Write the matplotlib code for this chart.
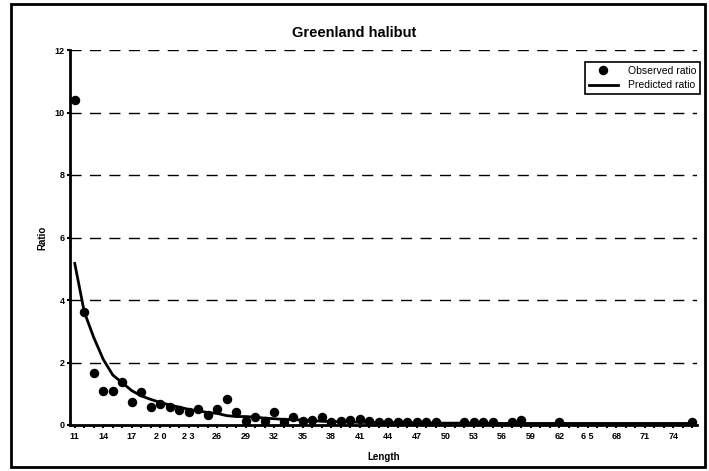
import numpy as np
import matplotlib
matplotlib.use("Agg")
import matplotlib.pyplot as plt
from matplotlib.patches import Rectangle

plt.rcParams['font.family'] = ['Liberation Sans', 'DejaVu Sans']

lengths = list(range(11, 77))
nan = float('nan')
observed = [10.4, 3.62, 1.66, 1.09, 1.09, 1.37, 0.75, 1.05, 0.58, 0.68,   # 11-20
            0.57, 0.48, 0.42, 0.52, 0.32, 0.50, 0.84, 0.43, 0.14, 0.25,   # 21-30
            0.14, 0.42, 0.10, 0.27, 0.12, 0.16, 0.27, 0.10, 0.14, 0.15,   # 31-40
            0.19, 0.12, 0.10, 0.10, 0.10, 0.10, 0.10, 0.10, 0.10, nan,    # 41-50
            nan, 0.10, 0.10, 0.10, 0.10, nan, 0.10, 0.16, nan, nan,       # 51-60
            nan, 0.10, nan, nan, nan, nan, nan, nan, nan, nan,            # 61-70
            nan, nan, nan, nan, nan, 0.10]                                # 71-76
predicted = [5.17, 3.62, 2.80, 2.10, 1.60, 1.35, 1.10, 0.93, 0.82, 0.72,  # 11-20
             0.64, 0.57, 0.50, 0.45, 0.40, 0.37, 0.30, 0.27, 0.27, 0.25,  # 21-30
             0.22, 0.20, 0.18, 0.17, 0.16, 0.14, 0.12, 0.11, 0.10, 0.09,  # 31-40
             0.09, 0.08, 0.08, 0.08, 0.07, 0.07, 0.07, 0.07, 0.06, 0.06,  # 41-50
             0.06, 0.06, 0.06, 0.06, 0.05, 0.05, 0.05, 0.05, 0.05, 0.05,  # 51-60
             0.05, 0.05, 0.05, 0.05, 0.05, 0.05, 0.05, 0.05, 0.05, 0.05,  # 61-70
             0.05, 0.05, 0.05, 0.05, 0.05, 0.05]                          # 71-76
y_ticks = [0, 2, 4, 6, 8, 10, 12]
x_tick_labels = ['11', '14', '17', '2 0', '2 3', '26', '29', '32', '35', '38', '41',
                 '44', '47', '50', '53', '56', '59', '62', '6 5', '68', '71', '74']

W, H = 709, 471
fig = plt.figure(figsize=(W / 100, H / 100), dpi=100)
ax = fig.add_axes([70 / W, (H - 425) / H, (697 - 70) / W, (425 - 50) / H])

for yv in y_ticks[1:]:
    ax.axhline(yv, color='black', lw=1.0, ls=(0, (8, 6)), zorder=1)

ax.plot(lengths, predicted, color='black', lw=2.0, zorder=3, label='Predicted ratio')
ax.plot(lengths, observed, ls='none', marker='o', ms=5.8, color='black', zorder=4,
        label='Observed ratio')

ax.set_xlim(10.5, 76.5)
ax.set_ylim(0, 12)
ax.set_yticks(y_ticks)
ax.set_yticklabels([str(v) for v in y_ticks], fontsize=6.5, fontweight='bold')
ax.set_xticks(list(range(11, 75, 3)))
ax.set_xticklabels(x_tick_labels, fontsize=6.5, fontweight='bold')
ax.set_xticks(lengths, minor=True)
ax.tick_params(axis='x', which='both', length=2, width=1.5, direction='out', pad=3)
ax.tick_params(axis='y', length=2, width=1.5, direction='out', pad=2)

for s in ['top', 'right']:
    ax.spines[s].set_visible(False)
ax.spines['left'].set_linewidth(2)
ax.spines['bottom'].set_linewidth(2)

fig.text(354 / W, 1 - 33 / H, 'Greenland halibut', fontsize=10.5, fontweight='bold',
         ha='center', va='center')
ax.set_xlabel('Length', fontsize=7, fontweight='bold', labelpad=8)
ax.set_ylabel('Ratio', fontsize=7, fontweight='bold', labelpad=5)

handles, labels = ax.get_legend_handles_labels()
leg = ax.legend(handles[::-1], labels[::-1], loc='upper right',
                bbox_to_anchor=(1.005, 0.968), borderaxespad=0, fontsize=7.5, frameon=True,
                fancybox=False, edgecolor='black', framealpha=1,
                handlelength=2.8, borderpad=0.35, labelspacing=0.45, handletextpad=1.0)
leg.get_frame().set_linewidth(1.2)

fig.patches.append(Rectangle((11 / W, 4 / H), (705 - 11) / W, (467 - 4) / H,
                             transform=fig.transFigure, fill=False,
                             edgecolor='black', lw=2))

fig.savefig('out.png', dpi=100)
